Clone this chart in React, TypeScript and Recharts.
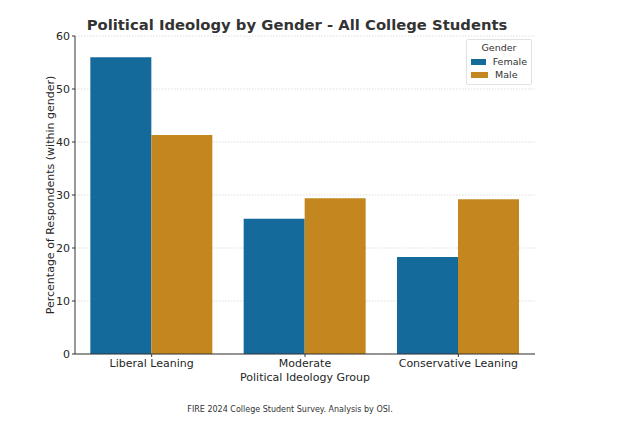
import React from 'react';
import { BarChart, Bar, XAxis, YAxis, CartesianGrid, Legend } from 'recharts';

const groups = ['Liberal Leaning', 'Moderate', 'Conservative Leaning'];
const female = [56.0, 25.5, 18.3];
const male = [41.3, 29.4, 29.2];
const yTicks = [0, 10, 20, 30, 40, 50, 60];

const data = groups.map((group, i) => ({ group, Female: female[i], Male: male[i] }));

const FONT = '"DejaVu Sans", sans-serif';
const BLUE = '#146a9b';
const ORANGE = '#c4871f';

// absolutely positioned so the legend takes no room from the plot
const GenderLegend: React.FC = () => (
    <div
        style={{
            position: 'absolute',
            top: 0,
            left: 0,
            fontFamily: FONT,
            fontSize: 9.5,
            color: '#333',
            border: '1px solid #e2e2e2',
            borderRadius: 2,
            background: 'rgba(255,255,255,0.8)',
            padding: '2px 4px 3px 4px',
            width: 56,
        }}
    >
        <div style={{ textAlign: 'center', marginBottom: 2 }}>Gender</div>
        {[
            { name: 'Female', color: BLUE },
            { name: 'Male', color: ORANGE },
        ].map((item) => (
            <div key={item.name} style={{ display: 'flex', alignItems: 'center', height: 13 }}>
                <span style={{ width: 17, height: 6, background: item.color, display: 'inline-block', marginRight: 7 }} />
                <span>{item.name}</span>
            </div>
        ))}
    </div>
);

const App: React.FC = () => {
    return (
        <div style={{ position: 'absolute', top: 0, left: 0, width: 625, height: 442, background: '#fff' }}>
            <BarChart
                width={625}
                height={442}
                data={data}
                margin={{ top: 36, right: 90, bottom: 58, left: 0 }}
                barCategoryGap="10%"
                barGap={0}
            >
                <CartesianGrid vertical={false} stroke="#d6d6d6" strokeWidth={0.8} strokeDasharray="1.5 1.5" />
                <XAxis
                    dataKey="group"
                    stroke="#333"
                    tick={{ fill: '#262626', fontSize: 11, fontFamily: FONT }}
                    tickLine={{ stroke: '#333' }}
                    tickSize={3}
                    height={30}
                />
                <YAxis
                    domain={[0, 60]}
                    ticks={yTicks}
                    width={75}
                    stroke="#333"
                    tick={{ fill: '#262626', fontSize: 11, fontFamily: FONT }}
                    tickLine={{ stroke: '#333' }}
                    tickSize={3}
                />
                <Legend
                    content={() => <GenderLegend />}
                    wrapperStyle={{ top: 39, left: 466, width: 0, height: 0 }}
                />
                <Bar dataKey="Female" fill={BLUE} isAnimationActive={false} />
                <Bar dataKey="Male" fill={ORANGE} isAnimationActive={false} />
                <text
                    x={297}
                    y={30}
                    textAnchor="middle"
                    fontFamily={FONT}
                    fontWeight="bold"
                    fontSize={14.8}
                    fill="#333"
                >
                    Political Ideology by Gender - All College Students
                </text>
                <text
                    x={305}
                    y={381}
                    textAnchor="middle"
                    fontFamily={FONT}
                    fontSize={11}
                    fill="#262626"
                >
                    Political Ideology Group
                </text>
                <text
                    x={54}
                    y={195}
                    textAnchor="middle"
                    fontFamily={FONT}
                    fontSize={11}
                    fill="#262626"
                    transform="rotate(-90 54 195)"
                >
                    Percentage of Respondents (within gender)
                </text>
                <text
                    x={290}
                    y={412}
                    textAnchor="middle"
                    fontFamily={FONT}
                    fontSize={8}
                    fill="#333"
                >
                    FIRE 2024 College Student Survey. Analysis by OSI.
                </text>
            </BarChart>
        </div>
    );
};

export default App;
